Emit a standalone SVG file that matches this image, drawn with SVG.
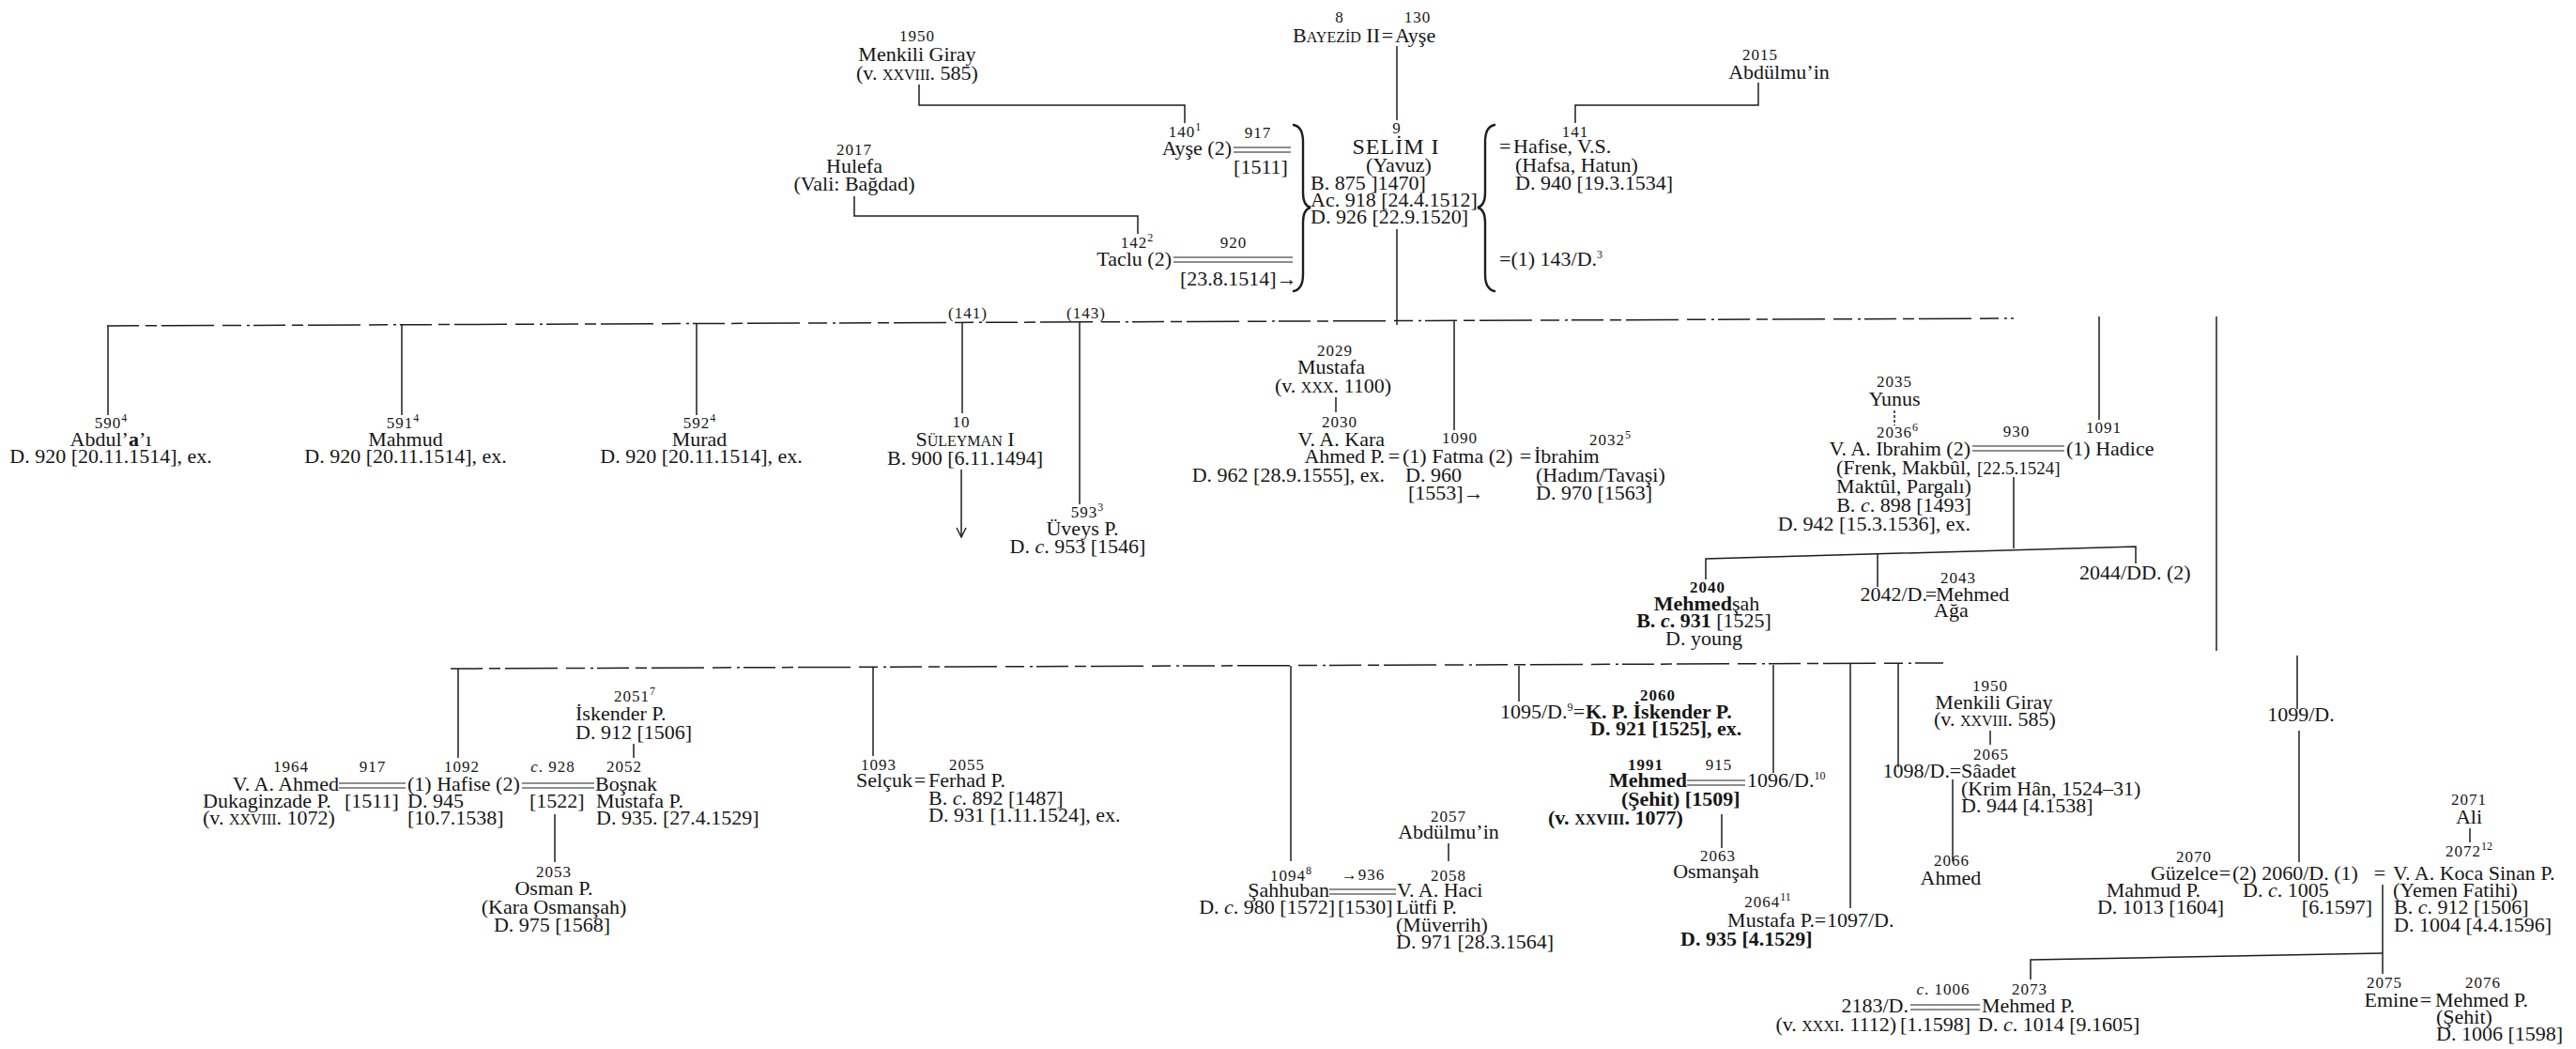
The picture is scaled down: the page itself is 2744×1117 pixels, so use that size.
<svg xmlns="http://www.w3.org/2000/svg" width="2744" height="1117" viewBox="0 0 2744 1117">
<defs>
<style>
.t{font-family:"Liberation Serif","Times New Roman",serif;font-size:22px;fill:#161616}
.n{font-size:17px;letter-spacing:1px}
.m{text-anchor:middle}
.e{text-anchor:end}
.b{font-weight:bold}
.i{font-style:italic}
.sc{font-size:16px}
.sup{font-size:12px;letter-spacing:0}
.sm{font-size:19px}
.c{stroke:#1e1e1e;stroke-width:1.5;fill:none}
.dl{stroke:#1e1e1e;stroke-width:1.2;fill:none}
.da{stroke-dasharray:34 7 12 5 56 9 20 6 3 4}
.br{stroke:#1e1e1e;stroke-width:2.4;fill:none;stroke-linecap:round}
</style>
<marker id="arr" viewBox="0 0 12 12" refX="11" refY="6" markerWidth="12" markerHeight="12" markerUnits="userSpaceOnUse" orient="auto">
<path d="M1 1 L11 6 L1 11" fill="none" stroke="#1e1e1e" stroke-width="1.4"/>
</marker>
</defs>
<rect width="2744" height="1117" fill="#ffffff"/>

<g id="connectors">
<path class="c" d="M1488 49 V128"/>
<path class="c" d="M1488 244 V346"/>
<path class="c" d="M979 90 V112 H1262 V131"/>
<path class="c" d="M910 209 V230 H1212 V249"/>
<path class="c" d="M1873 88 V112 H1678 V131"/>
<path class="dl" d="M1314 157 H1375 M1314 162 H1375"/>
<path class="dl" d="M1250 274 H1377 M1250 279 H1377"/>
<path class="br" d="M1378 133 Q1388 135 1388 151 L1388 205 Q1388 219 1396 221 Q1388 223 1388 237 L1388 292 Q1388 308 1378 310"/>
<path class="br" d="M1592 133 Q1582 135 1582 151 L1582 205 Q1582 219 1574 221 Q1582 223 1582 237 L1582 292 Q1582 308 1592 310"/>
<path class="c da" d="M114 347 L2145 339"/>
<path class="c" d="M115 347 V442"/>
<path class="c" d="M428 346 V442"/>
<path class="c" d="M742 345 V442"/>
<path class="c" d="M1025 344 V440"/>
<path class="c" d="M1024 500 V572" marker-end="url(#arr)"/>
<path class="c" d="M1150 343 V537"/>
<path class="c" d="M1549 341 V458"/>
<path class="c" d="M1423 423 V439"/>
<path class="c" d="M2018 437 V453" stroke-dasharray="3 2"/>
<path class="dl" d="M2101 475 H2199 M2101 480 H2199"/>
<path class="c" d="M2236 337 V447"/>
<path class="c" d="M2145 508 V584"/>
<path class="c" d="M1817 617 V595 L2275 582 V600"/>
<path class="c" d="M2000 590 V625"/>
<path class="c" d="M2361 337 V693"/>
<path class="c da" d="M480 712 L2070 706"/>
<path class="c" d="M488 712 V807"/>
<path class="c" d="M675 792 V807"/>
<path class="dl" d="M361 834 H432 M361 839 H432"/>
<path class="dl" d="M556 834 H633 M556 839 H633"/>
<path class="c" d="M591 867 V918"/>
<path class="c" d="M930 710 V805"/>
<path class="c" d="M1375 709 V917"/>
<path class="c" d="M1543 898 V917"/>
<path class="dl" d="M1416 947 H1487 M1416 952 H1487"/>
<path class="c" d="M1618 709 V747"/>
<path class="c" d="M1889 708 V823"/>
<path class="dl" d="M1797 831 H1859 M1797 836 H1859"/>
<path class="c" d="M1834 867 V903"/>
<path class="c" d="M1971 707 V967"/>
<path class="c" d="M2022 707 V817"/>
<path class="c" d="M2120 778 V793"/>
<path class="c" d="M2080 830 V917"/>
<path class="c" d="M2447 698 V755"/>
<path class="c" d="M2449 778 V918"/>
<path class="c" d="M2631 882 V897"/>
<path class="c" d="M2538 942 V1037"/>
<path class="c" d="M2163 1043 V1022 L2538 1015"/>
<path class="dl" d="M2035 1070 H2109 M2035 1075 H2109"/>
</g>

<g id="n-bayezid">
<text class="t n m" x="1427" y="24">8</text>
<text class="t n m" x="1510" y="24">130</text>
<text class="t e" x="1470" y="45">B<tspan class="sc">AYEZİD</tspan> II</text>
<text class="t m" x="1478" y="45">=</text>
<text class="t" x="1486" y="45">Ayşe</text>
</g>

<g id="n-selim">
<text class="t n m" x="1488" y="142">9</text>
<text class="t m" x="1487" y="164" style="font-size:24px;letter-spacing:1px">SELİM I</text>
<text class="t m" x="1490" y="183">(Yavuz)</text>
<text class="t" x="1396" y="202">B. 875 ]1470]</text>
<text class="t" x="1396" y="220">Ac. 918 [24.4.1512]</text>
<text class="t" x="1396" y="238">D. 926 [22.9.1520]</text>
</g>

<g id="n-hafise-141">
<text class="t n m" x="1678" y="146">141</text>
<text class="t" x="1597" y="163">=<tspan x="1612">Hafise, V.S.</tspan></text>
<text class="t" x="1614" y="183">(Hafsa, Hatun)</text>
<text class="t" x="1614" y="202">D. 940 [19.3.1534]</text>
</g>

<g id="n-143">
<text class="t" x="1597" y="283">=(1) 143/D.<tspan class="sup" dy="-8">3</tspan></text>
</g>

<g id="n-abdulmuin-2015">
<text class="t n m" x="1875" y="64">2015</text>
<text class="t m" x="1895" y="84">Abdülmu’in</text>
</g>

<g id="n-menkili-1950a">
<text class="t n m" x="977" y="44">1950</text>
<text class="t m" x="977" y="65">Menkili Giray</text>
<text class="t m" x="977" y="85">(v. <tspan class="sc">XXVIII</tspan>. 585)</text>
</g>

<g id="n-ayse-140">
<text class="t n m" x="1262" y="146">140<tspan class="sup" dy="-7">1</tspan></text>
<text class="t n m" x="1340" y="147">917</text>
<text class="t e" x="1312" y="165">Ayşe (2)</text>
<text class="t m" x="1343" y="185">[1511]</text>
</g>

<g id="n-hulefa">
<text class="t n m" x="910" y="165">2017</text>
<text class="t m" x="910" y="184">Hulefa</text>
<text class="t m" x="910" y="203">(Vali: Bağdad)</text>
</g>

<g id="n-taclu">
<text class="t n m" x="1211" y="264">142<tspan class="sup" dy="-7">2</tspan></text>
<text class="t n m" x="1314" y="264">920</text>
<text class="t e" x="1248" y="283">Taclu (2)</text>
<text class="t" x="1257" y="304">[23.8.1514]→</text>
</g>

<g id="lbl-mothers">
<text class="t n m" x="1031" y="339">(141)</text>
<text class="t n m" x="1157" y="339">(143)</text>
</g>

<g id="n-590">
<text class="t n m" x="118" y="456">590<tspan class="sup" dy="-7">4</tspan></text>
<text class="t m" x="118" y="475">Abdul’<tspan class="b">a</tspan>’ı</text>
<text class="t m" x="118" y="493">D. 920 [20.11.1514], ex.</text>
</g>

<g id="n-591">
<text class="t n m" x="429" y="456">591<tspan class="sup" dy="-7">4</tspan></text>
<text class="t m" x="432" y="475">Mahmud</text>
<text class="t m" x="432" y="493">D. 920 [20.11.1514], ex.</text>
</g>

<g id="n-592">
<text class="t n m" x="745" y="456">592<tspan class="sup" dy="-7">4</tspan></text>
<text class="t m" x="745" y="475">Murad</text>
<text class="t m" x="747" y="493">D. 920 [20.11.1514], ex.</text>
</g>

<g id="n-suleyman">
<text class="t n m" x="1024" y="455">10</text>
<text class="t m" x="1028" y="475">S<tspan class="sc">ÜLEYMAN</tspan> I</text>
<text class="t m" x="1028" y="495">B. 900 [6.11.1494]</text>
</g>

<g id="n-593">
<text class="t n m" x="1158" y="551">593<tspan class="sup" dy="-7">3</tspan></text>
<text class="t m" x="1153" y="570">Üveys P.</text>
<text class="t m" x="1148" y="589">D. <tspan class="i">c</tspan>. 953 [1546]</text>
</g>

<g id="n-mustafa-2029">
<text class="t n m" x="1422" y="379">2029</text>
<text class="t m" x="1418" y="398">Mustafa</text>
<text class="t m" x="1420" y="418">(v. <tspan class="sc">XXX</tspan>. 1100)</text>
</g>

<g id="n-kara-ahmed-2030">
<text class="t n m" x="1427" y="455">2030</text>
<text class="t e" x="1475" y="475">V. A. Kara</text>
<text class="t e" x="1475" y="493">Ahmed P.</text>
<text class="t e" x="1475" y="513">D. 962 [28.9.1555], ex.</text>
</g>

<g id="n-fatma-1090">
<text class="t n m" x="1555" y="472">1090</text>
<text class="t m" x="1485" y="493">=</text>
<text class="t" x="1494" y="493">(1) Fatma (2)</text>
<text class="t m" x="1625" y="493">=</text>
<text class="t" x="1497" y="513">D. 960</text>
<text class="t" x="1500" y="532">[1553]→</text>
</g>

<g id="n-ibrahim-2032">
<text class="t n m" x="1715" y="474">2032<tspan class="sup" dy="-7">5</tspan></text>
<text class="t" x="1634" y="493">İbrahim</text>
<text class="t" x="1636" y="513">(Hadım/Tavaşi)</text>
<text class="t" x="1636" y="532">D. 970 [1563]</text>
</g>

<g id="n-yunus-2035">
<text class="t n m" x="2018" y="412">2035</text>
<text class="t m" x="2018" y="432">Yunus</text>
</g>

<g id="n-ibrahim-2036">
<text class="t n m" x="2021" y="466">2036<tspan class="sup" dy="-7">6</tspan></text>
<text class="t n m" x="2148" y="465">930</text>
<text class="t e" x="2099" y="485">V. A. Ibrahim (2)</text>
<text class="t" x="1956" y="505">(Frenk, Makbûl,</text>
<text class="t sm" x="2106" y="505">[22.5.1524]</text>
<text class="t m" x="2028" y="525">Maktûl, Pargalı)</text>
<text class="t m" x="2028" y="545">B. <tspan class="i">c</tspan>. 898 [1493]</text>
<text class="t e" x="2099" y="565">D. 942 [15.3.1536], ex.</text>
</g>

<g id="n-hadice-1091">
<text class="t n m" x="2241" y="461">1091</text>
<text class="t" x="2201" y="485">(1) Hadice</text>
</g>

<g id="n-2040">
<text class="t n m b" x="1819" y="631">2040</text>
<text class="t m" x="1818" y="650"><tspan class="b">Mehmed</tspan>şah</text>
<text class="t m" x="1815" y="668"><tspan class="b">B. <tspan class="i">c</tspan>. 931</tspan> [1525]</text>
<text class="t m" x="1815" y="687">D. young</text>
</g>

<g id="n-2042">
<text class="t n m" x="2086" y="621">2043</text>
<text class="t e" x="2053" y="640">2042/D.</text>
<text class="t m" x="2057" y="640">=</text>
<text class="t" x="2062" y="640">Mehmed</text>
<text class="t" x="2060" y="657">Ağa</text>
</g>

<g id="n-2044">
<text class="t" x="2215" y="617">2044/DD. (2)</text>
</g>

<g id="n-iskender-2051">
<text class="t n m" x="676" y="747">2051<tspan class="sup" dy="-7">7</tspan></text>
<text class="t" x="613" y="767">İskender P.</text>
<text class="t" x="613" y="787">D. 912 [1506]</text>
</g>

<g id="n-ahmed-1964">
<text class="t n m" x="310" y="822">1964</text>
<text class="t n m" x="397" y="822">917</text>
<text class="t e" x="361" y="842">V. A. Ahmed</text>
<text class="t" x="216" y="860">Dukaginzade P.</text>
<text class="t" x="367" y="860">[1511]</text>
<text class="t" x="216" y="878">(v. <tspan class="sc">XXVIII</tspan>. 1072)</text>
</g>

<g id="n-hafise-1092">
<text class="t n m" x="492" y="822">1092</text>
<text class="t" x="434" y="842">(1) Hafise (2)</text>
<text class="t" x="434" y="860">D. 945</text>
<text class="t" x="434" y="878">[10.7.1538]</text>
<text class="t n m" x="589" y="822"><tspan class="i">c</tspan>. 928</text>
<text class="t" x="564" y="860">[1522]</text>
</g>

<g id="n-bosnak-2052">
<text class="t n m" x="665" y="822">2052</text>
<text class="t" x="634" y="842">Boşnak</text>
<text class="t" x="635" y="860">Mustafa P.</text>
<text class="t" x="635" y="878">D. 935. [27.4.1529]</text>
</g>

<g id="n-osman-2053">
<text class="t n m" x="590" y="934">2053</text>
<text class="t m" x="590" y="953">Osman P.</text>
<text class="t m" x="590" y="973">(Kara Osmanşah)</text>
<text class="t m" x="588" y="992">D. 975 [1568]</text>
</g>

<g id="n-selcuk-1093">
<text class="t n m" x="936" y="820">1093</text>
<text class="t n m" x="1030" y="820">2055</text>
<text class="t e" x="972" y="838">Selçuk</text>
<text class="t m" x="980" y="838">=</text>
<text class="t" x="989" y="838">Ferhad P.</text>
<text class="t" x="989" y="857">B. <tspan class="i">c</tspan>. 892 [1487]</text>
<text class="t" x="989" y="875">D. 931 [1.11.1524], ex.</text>
</g>

<g id="n-abdulmuin-2057">
<text class="t n m" x="1543" y="875">2057</text>
<text class="t m" x="1543" y="893">Abdülmu’in</text>
</g>

<g id="n-sahhuban-1094">
<text class="t n m" x="1375" y="938">1094<tspan class="sup" dy="-7">8</tspan></text>
<text class="t n m" x="1452" y="937">→936</text>
<text class="t e" x="1416" y="955">Şahhuban</text>
<text class="t e" x="1422" y="973">D. <tspan class="i">c</tspan>. 980 [1572]</text>
<text class="t" x="1425" y="973">[1530]</text>
</g>

<g id="n-lutfi-2058">
<text class="t n m" x="1543" y="938">2058</text>
<text class="t" x="1488" y="955">V. A. Haci</text>
<text class="t" x="1487" y="973">Lütfi P.</text>
<text class="t" x="1487" y="992">(Müverrih)</text>
<text class="t" x="1487" y="1010">D. 971 [28.3.1564]</text>
</g>

<g id="n-1095">
<text class="t" x="1598" y="765">1095/D.<tspan class="sup" dy="-8">9</tspan></text>
<text class="t m" x="1682" y="765">=</text>
</g>

<g id="n-iskender-2060">
<text class="t n m b" x="1766" y="746">2060</text>
<text class="t b" x="1689" y="765">K. P. İskender P.</text>
<text class="t b" x="1694" y="783">D. 921 [1525], ex.</text>
</g>

<g id="n-mehmed-1991">
<text class="t n m b" x="1753" y="820">1991</text>
<text class="t n m" x="1831" y="820">915</text>
<text class="t e b" x="1797" y="838">Mehmed</text>
<text class="t b" x="1727" y="858">(Şehit) [1509]</text>
<text class="t b" x="1649" y="878">(v. <tspan class="sc">XXVIII</tspan>. 1077)</text>
</g>

<g id="n-1096">
<text class="t" x="1861" y="838">1096/D.<tspan class="sup" dy="-8">10</tspan></text>
</g>

<g id="n-osmansah-2063">
<text class="t n m" x="1830" y="917">2063</text>
<text class="t m" x="1828" y="935">Osmanşah</text>
</g>

<g id="n-mustafa-2064">
<text class="t n m" x="1883" y="966">2064<tspan class="sup" dy="-7">11</tspan></text>
<text class="t e" x="1933" y="987">Mustafa P.</text>
<text class="t b" x="1790" y="1007">D. 935 [4.1529]</text>
</g>

<g id="n-1097">
<text class="t m" x="1939" y="987">=</text>
<text class="t" x="1946" y="987">1097/D.</text>
</g>

<g id="n-menkili-1950b">
<text class="t n m" x="2120" y="736">1950</text>
<text class="t m" x="2124" y="755">Menkili Giray</text>
<text class="t m" x="2125" y="773">(v. <tspan class="sc">XXVIII</tspan>. 585)</text>
</g>

<g id="n-1098">
<text class="t e" x="2077" y="828">1098/D.</text>
<text class="t m" x="2083" y="828">=</text>
</g>

<g id="n-saadet-2065">
<text class="t n m" x="2121" y="809">2065</text>
<text class="t" x="2089" y="828">Sâadet</text>
<text class="t" x="2089" y="847">(Krim Hân, 1524–31)</text>
<text class="t" x="2089" y="865">D. 944 [4.1538]</text>
</g>

<g id="n-ahmed-2066">
<text class="t n m" x="2079" y="922">2066</text>
<text class="t m" x="2078" y="942">Ahmed</text>
</g>

<g id="n-1099">
<text class="t m" x="2451" y="768">1099/D.</text>
</g>

<g id="n-guzelce-2070">
<text class="t n m" x="2337" y="918">2070</text>
<text class="t e" x="2363" y="937">Güzelce</text>
<text class="t e" x="2344" y="955">Mahmud P.</text>
<text class="t e" x="2369" y="973">D. 1013 [1604]</text>
</g>

<g id="n-2060d">
<text class="t m" x="2370" y="937">=</text>
<text class="t" x="2378" y="937">(2) 2060/D. (1)</text>
<text class="t m" x="2535" y="937">=</text>
<text class="t" x="2389" y="955">D. <tspan class="i">c</tspan>. 1005</text>
<text class="t e" x="2527" y="973">[6.1597]</text>
</g>

<g id="n-ali-2071">
<text class="t n m" x="2630" y="857">2071</text>
<text class="t m" x="2630" y="877">Ali</text>
</g>

<g id="n-sinan-2072">
<text class="t n m" x="2630" y="912">2072<tspan class="sup" dy="-7">12</tspan></text>
<text class="t" x="2549" y="937">V. A. Koca Sinan P.</text>
<text class="t" x="2549" y="955">(Yemen Fatihi)</text>
<text class="t" x="2550" y="973">B. <tspan class="i">c</tspan>. 912 [1506]</text>
<text class="t" x="2550" y="992">D. 1004 [4.4.1596]</text>
</g>

<g id="n-emine-2075">
<text class="t n m" x="2540" y="1052">2075</text>
<text class="t e" x="2576" y="1072">Emine</text>
<text class="t m" x="2584" y="1072">=</text>
</g>

<g id="n-mehmed-2076">
<text class="t n m" x="2645" y="1052">2076</text>
<text class="t" x="2594" y="1072">Mehmed P.</text>
<text class="t" x="2595" y="1090">(Şehit)</text>
<text class="t" x="2595" y="1108">D. 1006 [1598]</text>
</g>

<g id="n-2183">
<text class="t n m" x="2070" y="1059"><tspan class="i">c</tspan>. 1006</text>
<text class="t e" x="2033" y="1078">2183/D.</text>
<text class="t e" x="2020" y="1098">(v. <tspan class="sc">XXXI</tspan>. 1112)</text>
<text class="t" x="2024" y="1098">[1.1598]</text>
</g>

<g id="n-mehmed-2073">
<text class="t n m" x="2162" y="1059">2073</text>
<text class="t" x="2111" y="1078">Mehmed P.</text>
<text class="t" x="2107" y="1098">D. <tspan class="i">c</tspan>. 1014 [9.1605]</text>
</g>
</svg>
